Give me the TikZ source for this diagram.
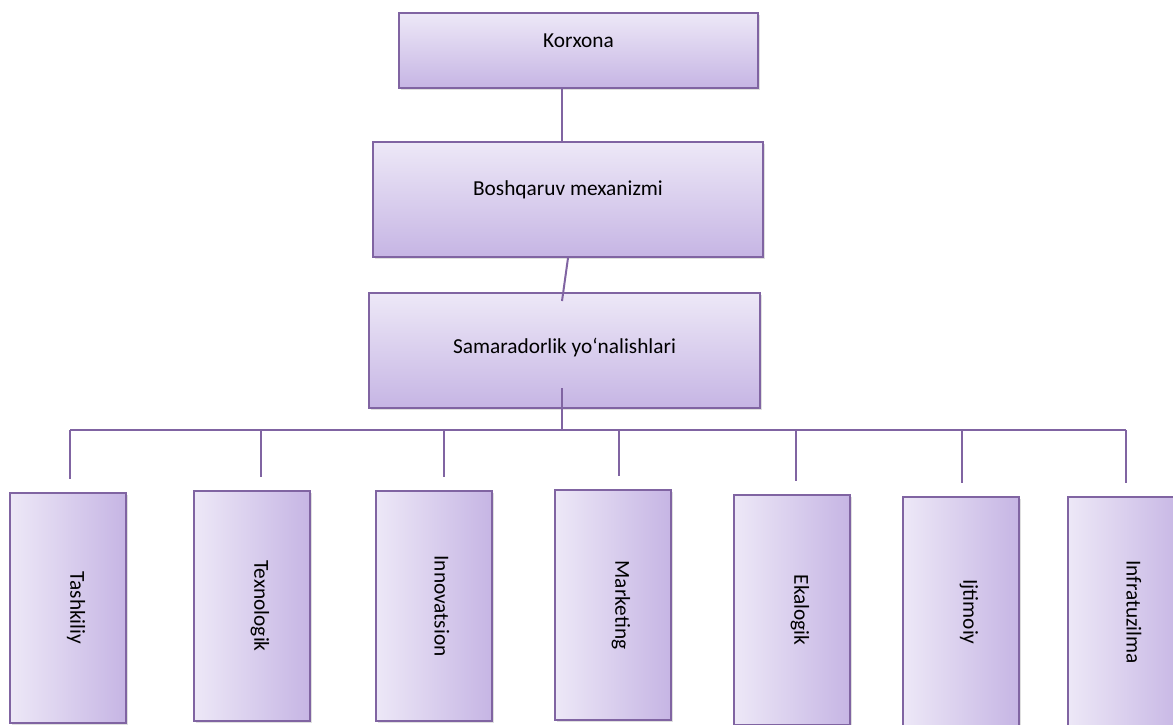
\documentclass[tikz,border=0pt]{standalone}
\usepackage{fontspec}
\setmainfont{Carlito}
\usetikzlibrary{shadows,calc}
\definecolor{Border}{RGB}{128,100,162}
\definecolor{Light}{RGB}{237,232,247}
\definecolor{Dark}{RGB}{198,181,228}

\begin{document}
\begin{tikzpicture}
	[
		x=0.75pt, y=-0.75pt,
		font=\fontsize{16}{19}\selectfont,
		Line/.style={draw=Border, line width=1.5pt}
	]
	
	\tikzstyle{Box} = [
		rectangle, 
		draw=Border, 
		line width=1.5pt, 
		text centered, 
		drop shadow={shadow xshift=1.5pt, shadow yshift=-1.5pt, opacity=0.25}
	]
	\tikzstyle{Head} = [Box, top color=Light, bottom color=Dark]
	\tikzstyle{Bar} = [Box, left color=Light, right color=Dark, minimum width=87pt, minimum height=172.5pt]
	
	\useasboundingbox (0,0) rectangle (1173,724);
	
	\node [Head, minimum width=269.25pt, minimum height=56.25pt] (Korxona) at (578.5,50.5) {\raisebox{7pt}[\height][\depth]{Korxona}};
	\node [Head, minimum width=292.5pt, minimum height=86.25pt] (Mexanizm) at (568,199.5) {\raisebox{7pt}[\height][\depth]{Boshqaruv mexanizmi}};
	\node [Head, minimum width=293.25pt, minimum height=86.25pt] (Yonalish) at (564.5,350.5) {\raisebox{2pt}[\height][\depth]{Samaradorlik yo‘nalishlari}};
	
	\coordinate (bus) at (562,430);
	
	\draw [Line] (Korxona.south -| bus) -- ($(Mexanizm.north -| bus)+(0,2)$);
	\draw [Line] (Mexanizm.south) -- ($(Yonalish.north -| bus)+(0,9)$);
	\draw [Line] ($(Yonalish.south -| bus)+(0,-21)$) -- (bus);
	
	\foreach \x/\y/\t [count=\i] in {68/608/Tashkiliy, 252/606/Texnologik, 434/606/Innovatsion, 613/605/Marketing, 792/610/Ekalogik, 961/612/Ijtimoiy, 1126/612/Infratuzilma}
		\node [Bar] (B\i) at (\x,\y) {\rotatebox{-90}{\raisebox{6pt}[\height][\depth]{\t}}};
	
	\foreach \x [count=\i] in {70,261,444,619,796,962,1126}
		\coordinate (d\i) at (\x,430);
	
	\draw [Line] (d1) -- (d7);
	\foreach \i in {1,...,7}
		\draw [Line] (d\i) -- ($(d\i |- B\i.north)+(0,-13)$);
\end{tikzpicture}
\end{document}
